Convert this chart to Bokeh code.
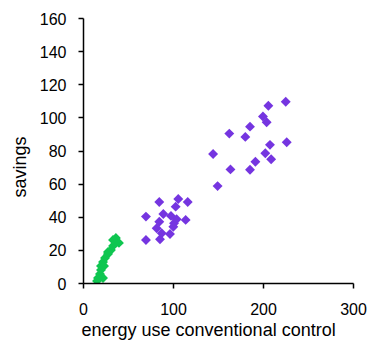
import math
from bokeh.plotting import figure
from bokeh.models import Range1d, FixedTicker, Title
from bokeh.embed import file_html
from bokeh.resources import INLINE

# purple series
purple_x = [224.7, 205.4, 199.4, 203.5, 185, 162, 179.8, 225.8, 207.2, 144, 202, 191, 208.5, 163.3, 185, 149,
            84.2, 105.3, 115.8, 102.4, 69.4, 88.7, 97.2, 103.5, 113.5, 84.2, 81.3, 100.6, 99.8, 96.1, 86.9, 85, 69.4]
purple_y = [109.7, 107.3, 100.8, 97.4, 94.7, 90.5, 88.5, 85.3, 83.7, 78.2, 78.6, 73.5, 75, 68.9, 68.7, 58.8,
            49.2, 51, 49.2, 46.4, 40.4, 42, 40.8, 38.8, 38.4, 37.3, 33.4, 36.4, 34.3, 29.9, 30.3, 26.7, 26.3]
# green series
green_x = [36, 39.4, 32.8, 30.5, 27.2, 23.9, 21.7, 19.4, 22.8, 19.4, 18.3, 16.1, 15, 21.7, 27.2, 32.8]
green_y = [27.5, 24.5, 22.7, 20.2, 17.8, 15.4, 13, 10.6, 10.6, 8.2, 5.7, 3.3, 1.5, 3.3, 19, 26.3]

x_ticks = [0, 100, 200, 300]
y_ticks = [0, 20, 40, 60, 80, 100, 120, 140, 160]
x_title = "energy use conventional control"
y_title = "savings"

p = figure(width=371, height=343, output_backend="svg", toolbar_location=None,
           x_range=Range1d(0, 300), y_range=Range1d(0, 160),
           min_border_left=83, min_border_top=18, min_border_right=18, min_border_bottom=60)
p.outline_line_color = None
p.xgrid.visible = False
p.ygrid.visible = False

p.scatter(purple_x, purple_y, marker="square", angle=math.pi / 4, size=7,
          fill_color="#7535E0", line_color=None)
p.scatter(green_x, green_y, marker="square", angle=math.pi / 4, size=7,
          fill_color="#0FC650", line_color=None)

for ax in (p.xaxis[0], p.yaxis[0]):
    ax.axis_line_color = "black"
    ax.axis_line_width = 1.5
    ax.major_tick_line_color = "black"
    ax.major_tick_line_width = 1.5
    ax.major_tick_in = 0
    ax.major_tick_out = 5
    ax.minor_tick_line_color = None
    ax.major_label_text_font = "Liberation Sans"
    ax.major_label_text_font_size = "16px"
    ax.major_label_text_color = "black"

p.xaxis[0].ticker = FixedTicker(ticks=x_ticks)
p.yaxis[0].ticker = FixedTicker(ticks=y_ticks)
p.xaxis[0].major_label_standoff = 14
p.yaxis[0].major_label_standoff = 12

p.add_layout(Title(text=x_title, align="left", offset=-2, standoff=0,
                   text_font="Liberation Sans", text_font_size="18px",
                   text_font_style="normal", text_color="black"), "below")
p.add_layout(Title(text=y_title, align="left", offset=86, standoff=13,
                   text_font="Liberation Sans", text_font_size="18px",
                   text_font_style="normal", text_color="black"), "left")

open("out.html", "w").write(file_html(p, INLINE))
